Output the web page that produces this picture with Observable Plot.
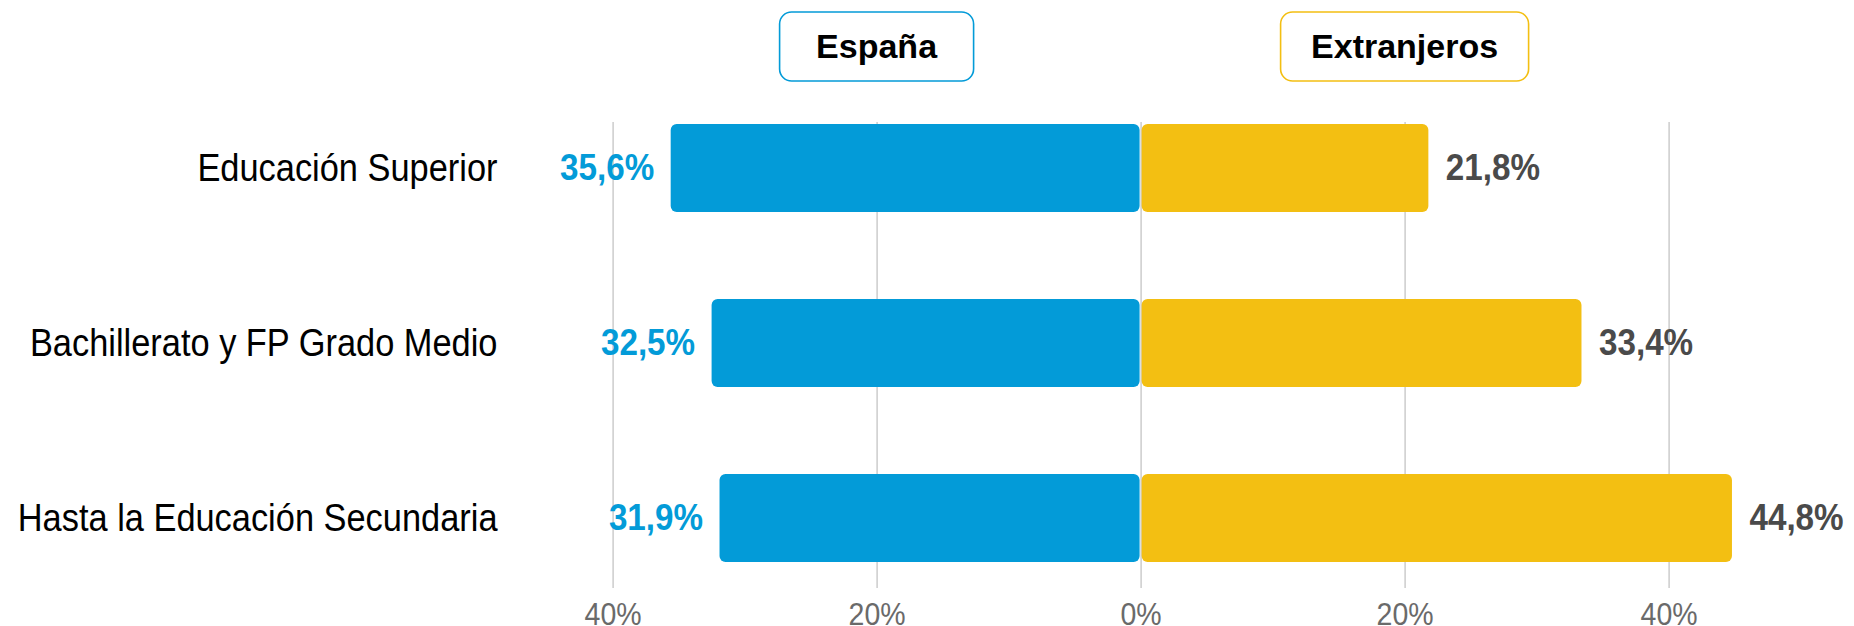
<!DOCTYPE html>
<html>
<head>
<meta charset="utf-8">
<script src="https://cdn.jsdelivr.net/npm/d3@7"></script>
<script src="https://cdn.jsdelivr.net/npm/@observablehq/plot@0.6"></script>
<style>
  html, body { margin: 0; padding: 0; background: #fff; }
  #chart { width: 1854px; height: 626px; }
</style>
</head>
<body>
<div id="chart"></div>
<script>
// ---- data ----
const categories = ["Educación Superior", "Bachillerato y FP Grado Medio", "Hasta la Educación Secundaria"];
const espana = [35.6, 32.5, 31.9];
const extranjeros = [21.8, 33.4, 44.8];
const seriesNames = ["España", "Extranjeros"];
const xTicks = [-40, -20, 0, 20, 40];
const headerCenters = [-20, 20];

// ---- styles ----
const BLUE = "#039BD8";
const YELLOW = "#F3BF12";
const GRAY_VALUE = "#4a4a4a";
const FONT = "'Liberation Sans', Arial, sans-serif";

const rows = categories.flatMap((c, i) => [
  {cat: c, series: seriesNames[0], v: -espana[i], val: espana[i]},
  {cat: c, series: seriesNames[1], v: extranjeros[i], val: extranjeros[i]}
]);
const esp = rows.filter(d => d.series === seriesNames[0]);
const ext = rows.filter(d => d.series === seriesNames[1]);
const fmt = v => v.toFixed(1).replace(".", ",") + "%";

const plot = Plot.plot({
  width: 1854,
  height: 626,
  marginLeft: 507,
  marginRight: 27,
  marginTop: 122,
  marginBottom: 38,
  style: {fontFamily: FONT, background: "#fff"},
  x: {
    domain: [-48, 52],
    ticks: xTicks,
    tickFormat: d => Math.abs(d) + "%",
    label: null
  },
  y: {
    domain: categories,
    paddingInner: 0.5,
    paddingOuter: 0.074,
    align: 0.077,
    label: null
  },
  marks: [
    Plot.ruleX(xTicks, {stroke: "#c4c4c4", strokeWidth: 1.3}),
    Plot.barX(esp, {x1: 0, x2: "v", y: "cat", fill: BLUE, rx: 6, insetRight: 1}),
    Plot.barX(ext, {x1: 0, x2: "v", y: "cat", fill: YELLOW, rx: 6, insetLeft: 1}),
    Plot.text(esp, {x: "v", y: "cat", text: d => fmt(d.val), textAnchor: "end", dx: -17, fill: BLUE, fontWeight: "bold", fontSize: 36.5}),
    Plot.text(ext, {x: "v", y: "cat", text: d => fmt(d.val), textAnchor: "start", dx: 17, fill: GRAY_VALUE, fontWeight: "bold", fontSize: 36.5}),
    Plot.axisY({tickSize: 0, tickPadding: 10, fontSize: 39.5, fill: "#000", label: null}),
    Plot.axisX({ticks: xTicks, tickFormat: d => Math.abs(d) + "%", tickSize: 0, tickPadding: 14, fontSize: 32, fill: "#6a6a6a", label: null})
  ]
});

document.getElementById("chart").appendChild(plot);
const svg = d3.select(plot);

// the reference's lettering is slightly condensed horizontally
function condense(sel, sx) {
  sel.each(function() {
    const t = d3.select(this);
    const tr = t.attr("transform");
    if (tr && tr.includes("translate")) {
      t.attr("transform", tr + ` scale(${sx},1)`);
    } else {
      const x = +t.attr("x") || 0, y = +t.attr("y") || 0;
      t.attr("x", null).attr("y", null)
       .attr("transform", `translate(${x},${y}) scale(${sx},1)` + (tr ? " " + tr : ""));
    }
  });
}
condense(svg.selectAll('g[aria-label="y-axis tick label"] text'), 0.871);
condense(svg.selectAll('g[aria-label="x-axis tick label"] text'), 0.89);
condense(svg.selectAll('g[aria-label="text"] text'), 0.91);

// header boxes placed with the plot's own x scale
const xs = plot.scale("x");
const boxW = [194, 248];
const boxColors = [BLUE, YELLOW];
seriesNames.forEach((name, i) => {
  const cx = xs.apply(headerCenters[i]);
  const g = svg.append("g");
  g.append("rect")
    .attr("x", cx - boxW[i] / 2)
    .attr("y", 12)
    .attr("width", boxW[i])
    .attr("height", 69)
    .attr("rx", 12)
    .attr("fill", "#fff")
    .attr("stroke", boxColors[i])
    .attr("stroke-width", 1.6);
  g.append("text")
    .attr("x", cx)
    .attr("y", 46.5)
    .attr("dy", "0.35em")
    .attr("text-anchor", "middle")
    .attr("font-family", FONT)
    .attr("font-weight", "bold")
    .attr("font-size", 34)
    .attr("fill", "#000")
    .text(name);
});
</script>
</body>
</html>
